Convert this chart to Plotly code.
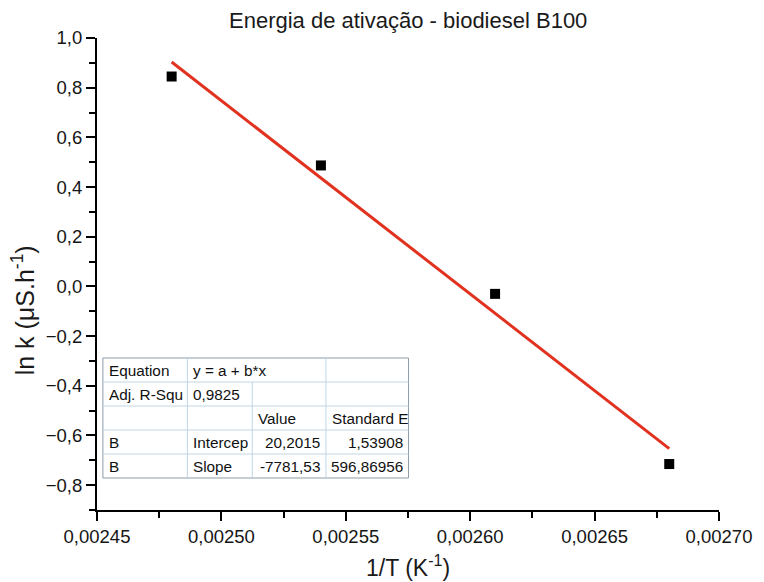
import plotly.graph_objects as go

# Reciprocal temperature (1/K) and ln of conductivity rate constant
inv_T = [0.00248, 0.00254, 0.00261, 0.00268]
ln_k = [0.845, 0.487, -0.030, -0.715]

# Linear fit results (Origin-style report)
fit_intercept = 20.2015
fit_slope = -7781.53
fit_intercept_err = 1.53908
fit_slope_err = 596.86956
adj_r2 = 0.9825

title_text = "Energia de ativação - biodiesel B100"
x_title = "1/T (K<sup>-1</sup>)"
y_title = "ln k (μS.h<sup>-1</sup>)"

table_rows = [
    ["Equation", "y = a + b*x", "", ""],
    ["Adj. R-Squ", "0,9825", "", ""],
    ["", "", "Value", "Standard E"],
    ["B", "Intercep", "20,2015", "1,53908"],
    ["B", "Slope", "-7781,53", "596,86956"],
]

FONT = "Liberation Sans, Arial, sans-serif"
FIG_W, FIG_H = 764, 582
ML, MR, MT, MB = 97, 34, 38, 72
PW = FIG_W - ML - MR
PH = FIG_H - MT - MB


def px(x):
    return (x - ML) / PW


def py(y):
    return (FIG_H - MB - y) / PH


fit_x = [min(inv_T), max(inv_T)]
fit_y = [fit_intercept + fit_slope * v for v in fit_x]

fig = go.Figure()
fig.add_trace(go.Scatter(x=fit_x, y=fit_y, mode="lines",
                         line=dict(color="#e1321f", width=3), showlegend=False))
fig.add_trace(go.Scatter(x=inv_T, y=ln_k, mode="markers",
                         marker=dict(symbol="square", size=10, color="black"),
                         showlegend=False))

axis_common = dict(showgrid=False, zeroline=False, showline=True, linecolor="black",
                   linewidth=2, ticks="outside", ticklen=9, tickwidth=2, tickcolor="black",
                   mirror=False, tickfont=dict(family=FONT, size=18.5, color="#151515"))

fig.update_xaxes(range=[0.00245, 0.00270], tick0=0.00245, dtick=0.00005, tickformat=".5f",
                 minor=dict(ticks="outside", ticklen=6, tickwidth=2, tickcolor="black",
                            dtick=0.000025, tick0=0.00245),
                 **axis_common)
fig.update_yaxes(range=[-0.9, 1.0], tick0=0, dtick=0.2, tickformat=".1f",
                 minor=dict(ticks="outside", ticklen=6, tickwidth=2, tickcolor="black",
                            dtick=0.1, tick0=0),
                 **axis_common)

# Fit report table
col_edges = [103, 189, 255, 330, 414]
row_top = 358
row_h = 24
n_rows = len(table_rows)
shapes = []
shapes.append(dict(type="rect", xref="paper", yref="paper",
                   x0=px(col_edges[0]), x1=px(col_edges[-1]),
                   y0=py(row_top + n_rows * row_h), y1=py(row_top),
                   fillcolor="white", line=dict(color="#8d9dab", width=1), layer="above"))
grid_color = "#bfd5e6"
for r in range(1, n_rows):
    yy = py(row_top + r * row_h)
    shapes.append(dict(type="line", xref="paper", yref="paper",
                       x0=px(col_edges[0]), x1=px(col_edges[-1]), y0=yy, y1=yy,
                       line=dict(color=grid_color, width=1), layer="above"))
for c in range(1, len(col_edges) - 1):
    start_row = 1 if c == 2 else 0
    shapes.append(dict(type="line", xref="paper", yref="paper",
                       x0=px(col_edges[c]), x1=px(col_edges[c]),
                       y0=py(row_top + start_row * row_h), y1=py(row_top + n_rows * row_h),
                       line=dict(color=grid_color, width=1), layer="above"))

annotations = []
right_aligned = {(1, 1), (3, 2), (3, 3), (4, 2), (4, 3)}
for r, row in enumerate(table_rows):
    yc = py(row_top + r * row_h + row_h / 2)
    for c, txt in enumerate(row):
        if not txt:
            continue
        if (r, c) in right_aligned:
            xa, anchor = px(col_edges[c + 1] - (10 if (r, c) == (1, 1) else 4)), "right"
        else:
            xa, anchor = px(col_edges[c] + 4), "left"
        annotations.append(dict(x=xa, y=yc, xref="paper", yref="paper", text=txt,
                                showarrow=False, xanchor=anchor, yanchor="middle",
                                font=dict(family=FONT, size=15.3, color="#111111")))

annotations.append(dict(x=px(413), y=py(20), xref="paper", yref="paper", text=title_text,
                        showarrow=False, xanchor="center", yanchor="middle",
                        font=dict(family=FONT, size=22, color="#1a1a1a")))
annotations.append(dict(x=px(413), y=py(566), xref="paper", yref="paper", text=x_title,
                        showarrow=False, xanchor="center", yanchor="middle",
                        font=dict(family=FONT, size=23, color="#1a1a1a")))
annotations.append(dict(x=px(22), y=py(310), xref="paper", yref="paper", text=y_title,
                        showarrow=False, xanchor="center", yanchor="middle", textangle=-90,
                        font=dict(family=FONT, size=25, color="#1a1a1a")))

fig.update_layout(width=FIG_W, height=FIG_H, margin=dict(l=ML, r=MR, t=MT, b=MB),
                  plot_bgcolor="white", paper_bgcolor="white", separators=",.",
                  shapes=shapes, annotations=annotations, showlegend=False)

fig.write_html("out.html")
